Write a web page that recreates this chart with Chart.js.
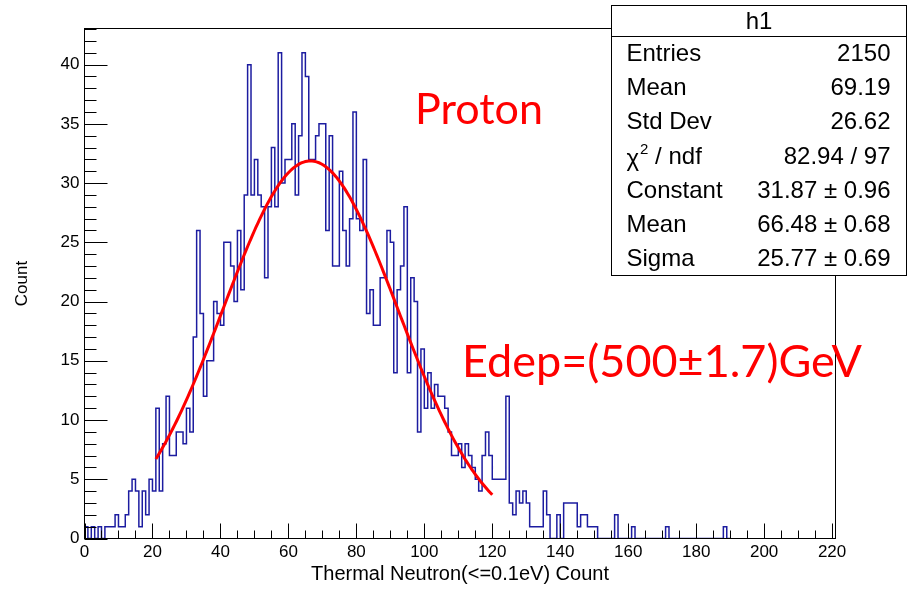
<!DOCTYPE html>
<html>
<head>
<meta charset="utf-8">
<script src="https://cdn.jsdelivr.net/npm/chart.js@4.4.1/dist/chart.umd.min.js"></script>
<style>
  html, body { margin: 0; padding: 0; background: #fff; }
</style>
</head>
<body>
<canvas id="myChart" width="907" height="589"></canvas>
<script>
/*global Chart*/

// histogram h1: unit-width bins starting at 0
var binLow = 0;
var binWidth = 1;
var counts = [
    1, 0, 1, 0, 1, 0, 1, 1, 1, 2,
    1, 1, 2, 4, 5, 4, 1, 4, 2, 5,
    4, 11, 4, 8, 12, 7, 7, 9, 9, 8,
    11, 9, 17, 26, 19, 12, 15, 15, 20, 19,
    18, 25, 25, 23, 20, 26, 21, 29, 40, 29,
    32, 29, 28, 22, 28, 33, 28, 41, 30, 32,
    32, 35, 29, 34, 41, 39, 32, 32, 34, 35,
    35, 26, 34, 23, 23, 31, 26, 23, 27, 36,
    27, 26, 32, 19, 21, 18, 18, 22, 22, 26,
    25, 14, 21, 23, 28, 14, 22, 20, 9, 16,
    11, 14, 11, 13, 12, 12, 11, 9, 7, 7,
    8, 6, 8, 7, 6, 5, 4, 7, 9, 7,
    5, 5, 5, 5, 12, 3, 2, 4, 3, 4,
    3, 1, 1, 1, 1, 4, 2, 0, 0, 2,
    0, 3, 3, 3, 3, 1, 2, 2, 1, 1,
    1, 0, 0, 0, 0, 0, 2, 0, 0, 0,
    0, 1, 0, 0, 0, 0, 0, 0, 0, 0,
    0, 1, 0, 0, 0, 0, 0, 0, 0, 0,
    0, 0, 0, 0, 0, 0, 0, 0, 1, 0
];

// gaussian fit result
var fitConstant = 31.87;
var fitMean = 66.48;
var fitSigma = 25.77;
var fitRange = [21, 120];

// axis ranges and tick steps
var xMin = 0, xMax = 221, xLabelStep = 20, xMinorStep = 5;
var yMin = 0, yMax = 43.05, yLabelStep = 5, yMinorStep = 1;

// stats box rows
var statsTitle = "h1";
var statsNames = ["Entries", "Mean", "Std Dev", "\u03c7\u00b2 / ndf", "Constant", "Mean", "Sigma"];
var statsValues = ["2150", "69.19", "26.62", "82.94 / 97", "31.87 \u00b1 0.96", "66.48 \u00b1 0.68", "25.77 \u00b1 0.69"];

var particleText = "Proton";
var energyText = "Edep=(500\u00b11.7)GeV";

var FONT = '"Liberation Sans", Arial, Helvetica, sans-serif';

function gaus(x) {
    var d = (x - fitMean) / fitSigma;
    return fitConstant * Math.exp(-0.5 * d * d);
}

var histPoints = [{x: binLow, y: 0}];
counts.forEach(function(c, i){
    histPoints.push({x: binLow + i * binWidth, y: c});
});
histPoints.push({x: binLow + counts.length * binWidth, y: 0});

var fitPoints = [];
for (var t = fitRange[0]; t <= fitRange[1] + 1e-9; t += 0.5) {
    fitPoints.push({x: t, y: gaus(t)});
}

// frame with inward ticks, ROOT style
var frameTicks = {
    id: "frameTicks",
    afterDatasetsDraw: function(chart) {
        var ctx = chart.ctx, a = chart.chartArea;
        var xs = chart.scales.x, ys = chart.scales.y;
        ctx.save();
        ctx.strokeStyle = "#000";
        ctx.lineWidth = 1;
        ctx.beginPath();
        for (var v = xMin; v <= xMax; v += xMinorStep) {
            var px = Math.round(xs.getPixelForValue(v)) + 0.5;
            var len = (v % xLabelStep === 0) ? 15 : 8;
            ctx.moveTo(px, a.bottom);
            ctx.lineTo(px, a.bottom - len);
        }
        for (var w = yMin; w <= yMax; w += yMinorStep) {
            var py = Math.round(ys.getPixelForValue(w)) + 0.5;
            var len2 = (w % yLabelStep === 0) ? 23 : 12;
            ctx.moveTo(a.left, py);
            ctx.lineTo(a.left + len2, py);
        }
        ctx.stroke();
        ctx.strokeRect(a.left, a.top, a.right - a.left, a.bottom - a.top);
        ctx.restore();
    }
};

function fitFontSize(ctx, text, family, width) {
    ctx.font = "100px " + family;
    return 100 * width / ctx.measureText(text).width;
}

// red labels and the stats box
var overlay = {
    id: "overlay",
    afterDraw: function(chart) {
        var ctx = chart.ctx;
        ctx.save();

        ctx.fillStyle = "#ff0000";
        ctx.textAlign = "left";
        ctx.textBaseline = "alphabetic";
        var s1 = fitFontSize(ctx, particleText, "Lato", 128);
        ctx.font = s1 + "px Lato";
        ctx.fillText(particleText, 415, 124);
        var s2 = fitFontSize(ctx, energyText, "Lato", 400);
        ctx.font = s2 + "px Lato";
        ctx.fillText(energyText, 462, 377);

        // stats box
        var bx = 611.5, by = 5.5, bw = 295, bh = 270, head = 31;
        ctx.fillStyle = "#fff";
        ctx.fillRect(bx, by, bw, bh);
        ctx.strokeStyle = "#000";
        ctx.lineWidth = 1;
        ctx.strokeRect(bx, by, bw, bh);
        ctx.beginPath();
        ctx.moveTo(bx, by + head);
        ctx.lineTo(bx + bw, by + head);
        ctx.stroke();

        ctx.fillStyle = "#000";
        ctx.font = "24px " + FONT;
        ctx.textBaseline = "middle";
        ctx.textAlign = "center";
        ctx.fillText(statsTitle, bx + bw / 2, by + head / 2 + 1);

        var rowH = (bh - head) / statsNames.length;
        statsNames.forEach(function(name, i){
            var y = by + head + rowH * (i + 0.5) + 1;
            ctx.textAlign = "left";
            if (name.charAt(0) === "\u03c7") {
                ctx.font = "24px " + FONT;
                ctx.fillText("\u03c7", bx + 15, y + 2);
                var cw = ctx.measureText("\u03c7").width;
                ctx.font = "15px " + FONT;
                ctx.fillText("2", bx + 15 + cw + 1, y - 7);
                var sw = ctx.measureText("2").width;
                ctx.font = "24px " + FONT;
                ctx.fillText(" / ndf", bx + 15 + cw + sw + 1, y);
            } else {
                ctx.font = "24px " + FONT;
                ctx.fillText(name, bx + 15, y);
            }
            ctx.textAlign = "right";
            ctx.fillText(statsValues[i], bx + bw - 16, y);
        });
        ctx.restore();
    }
};

var ctx = document.getElementById("myChart");
var chart = new Chart(ctx, {
    type: "line",
    data: {
        datasets: [
            {
                label: "gaus",
                data: fitPoints,
                borderColor: "#ff0000",
                borderWidth: 3,
                pointRadius: 0,
                fill: false,
                tension: 0
            },
            {
                label: "h1",
                data: histPoints,
                borderColor: "#1c1ca0",
                borderWidth: 1.5,
                pointRadius: 0,
                fill: false,
                stepped: true,
                tension: 0
            }
        ]
    },
    options: {
        responsive: false,
        animation: false,
        devicePixelRatio: 1,
        layout: {
            padding: {top: 28.5, right: 71.5, left: 0, bottom: 0}
        },
        plugins: {
            legend: {display: false},
            tooltip: {enabled: false}
        },
        scales: {
            x: {
                type: "linear",
                min: xMin,
                max: xMax,
                grid: {display: false, drawTicks: false},
                border: {display: false},
                afterFit: function(scale){ scale.height = 50.5; },
                ticks: {
                    stepSize: xLabelStep,
                    includeBounds: false,
                    autoSkip: false,
                    maxRotation: 0,
                    padding: 4,
                    color: "#000",
                    font: {family: FONT, size: 17}
                },
                title: {
                    display: true,
                    text: "Thermal Neutron(<=0.1eV) Count",
                    color: "#000",
                    font: {family: FONT, size: 20},
                    lineHeight: 1,
                    padding: {top: 0, bottom: 3}
                }
            },
            y: {
                type: "linear",
                min: yMin,
                max: yMax,
                grid: {display: false, drawTicks: false},
                border: {display: false},
                afterFit: function(scale){ scale.width = 84.5; },
                ticks: {
                    stepSize: yLabelStep,
                    includeBounds: false,
                    autoSkip: false,
                    padding: 5,
                    color: "#000",
                    font: {family: FONT, size: 17}
                },
                title: {
                    display: true,
                    text: "Count",
                    color: "#000",
                    font: {family: FONT, size: 17},
                    padding: {top: 12, bottom: 0}
                }
            }
        }
    },
    plugins: [frameTicks, overlay]
});
</script>
</body>
</html>
